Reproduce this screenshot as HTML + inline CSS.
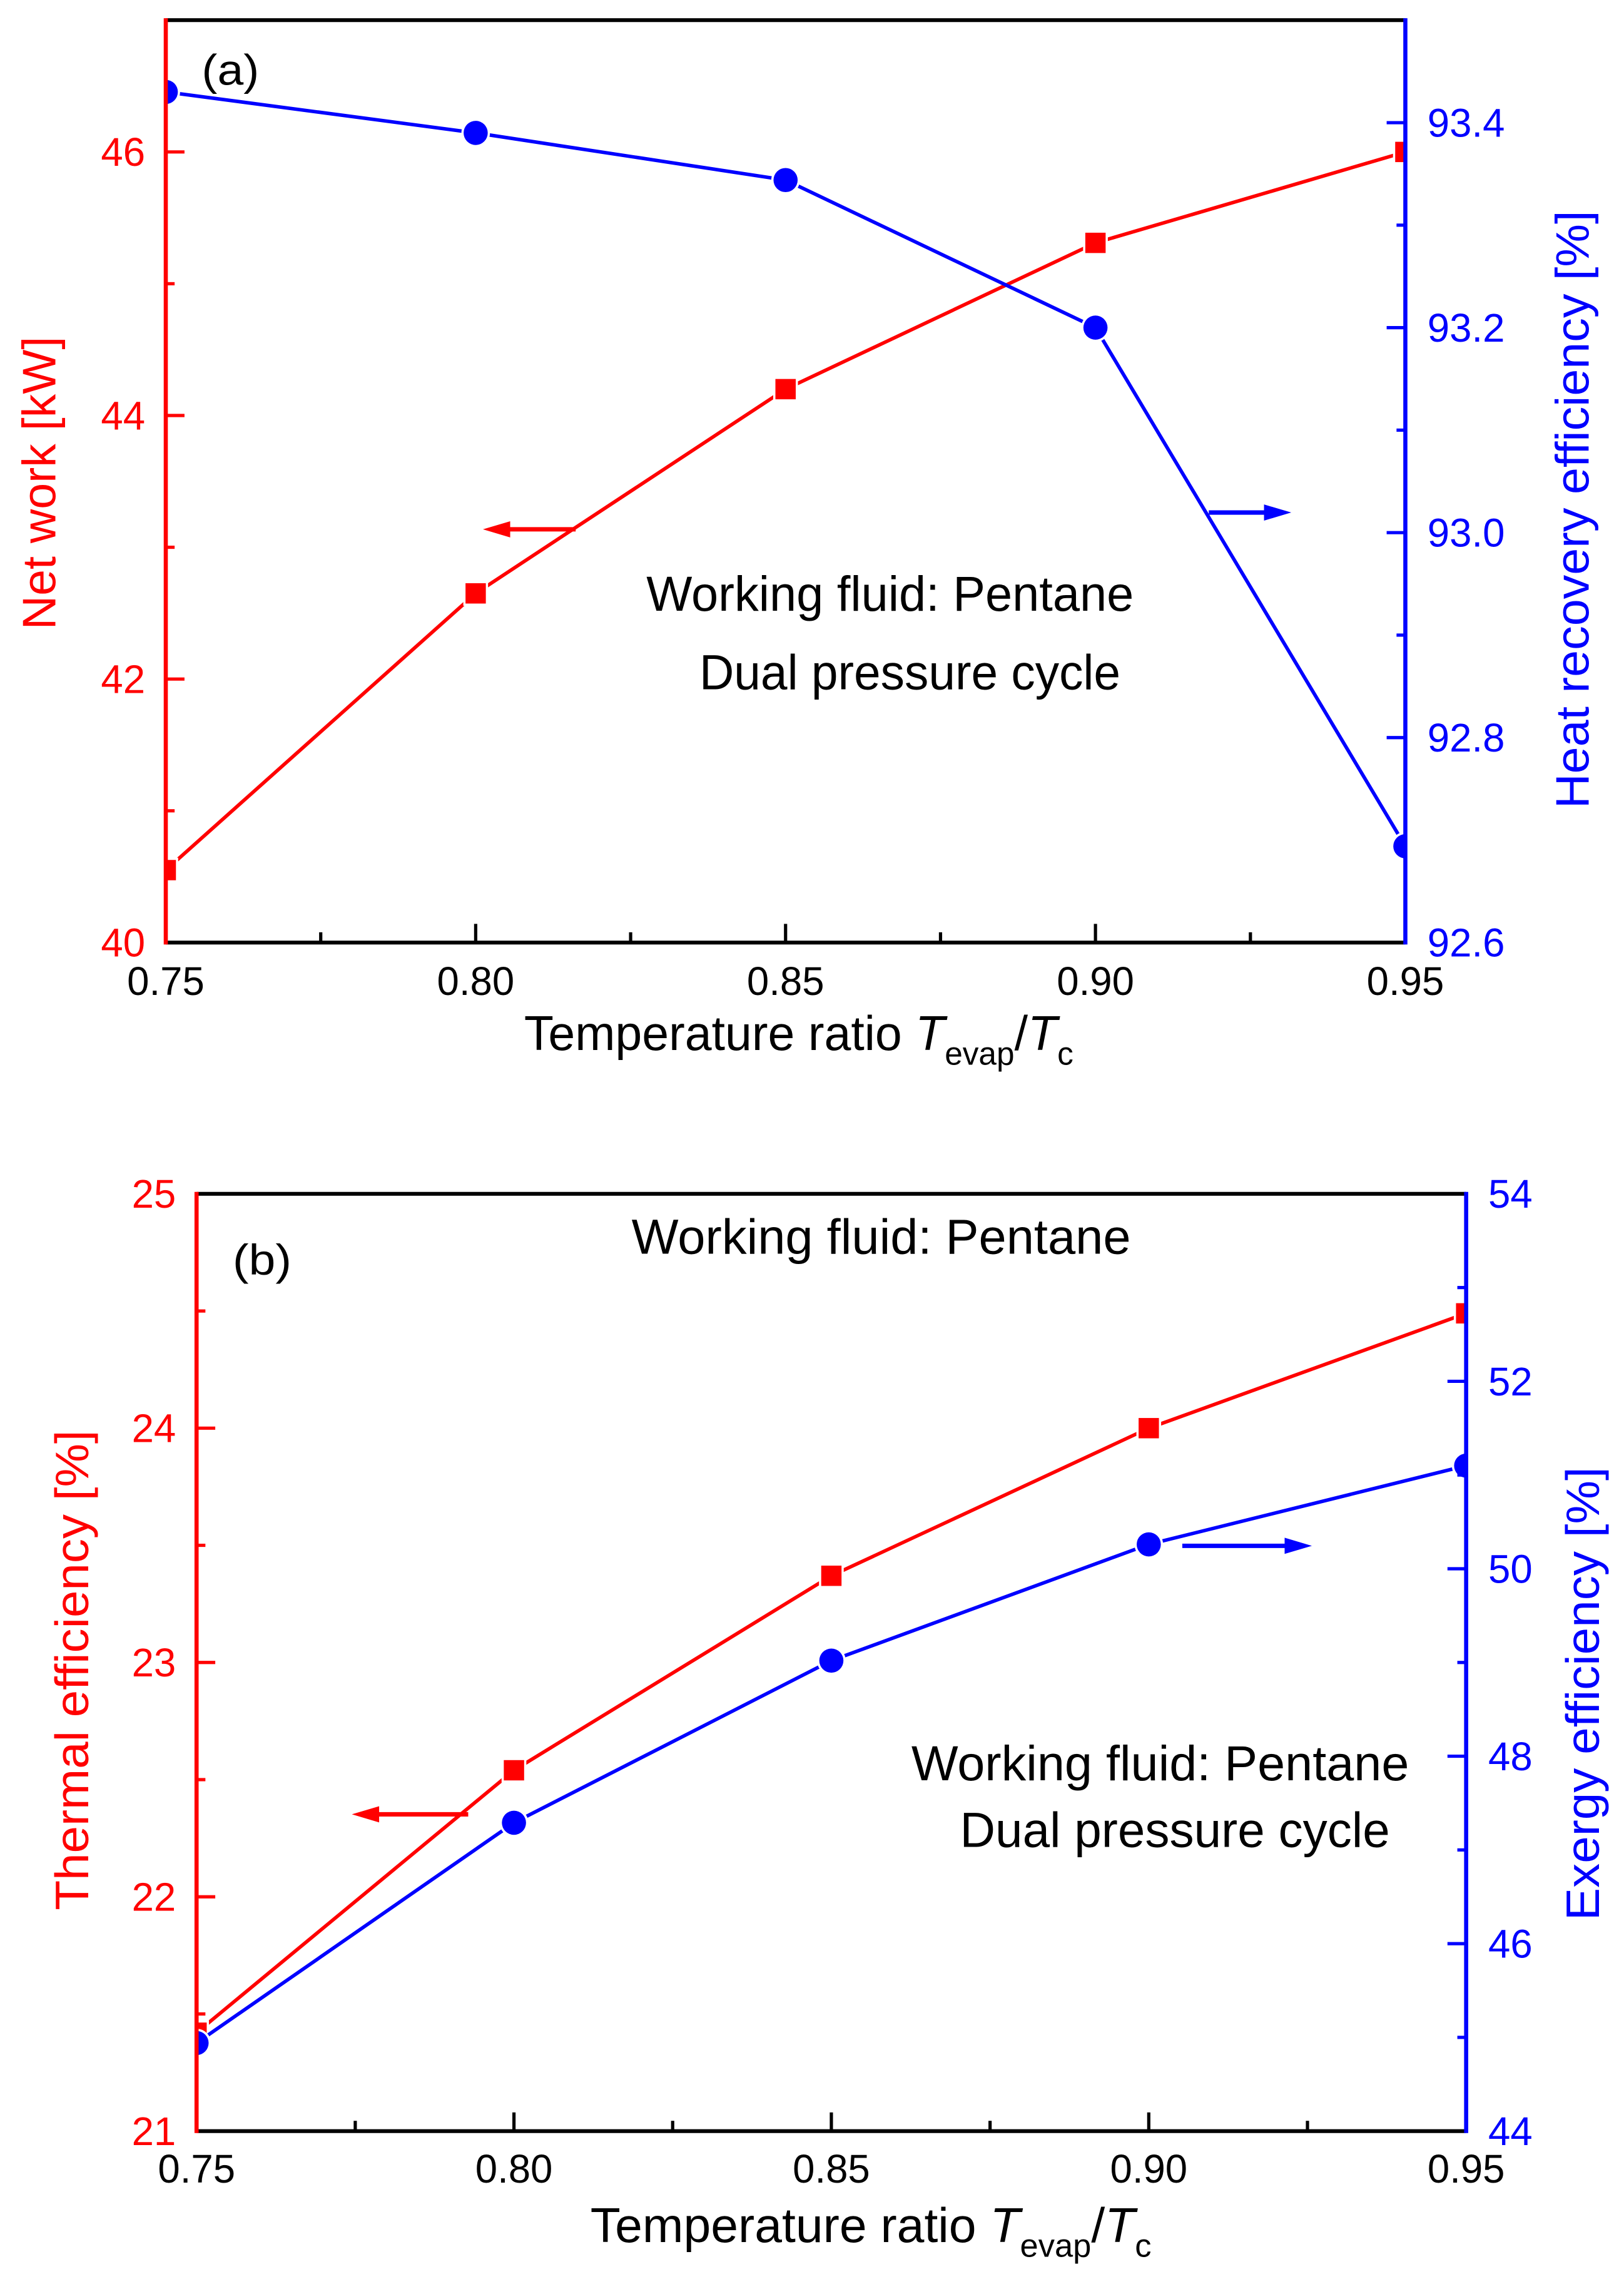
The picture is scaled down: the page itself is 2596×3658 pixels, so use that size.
<!DOCTYPE html>
<html><head><meta charset="utf-8"><style>
html,body{margin:0;padding:0;background:#fff}
svg{display:block}
text{font-family:"Liberation Sans",Arial,sans-serif}
</style></head><body>
<svg id="fig" xmlns="http://www.w3.org/2000/svg" width="2596" height="3658" viewBox="0 0 1103 1554.2" preserveAspectRatio="none">
<defs>
<clipPath id="clipA"><rect x="112.6" y="13.7" width="841.9" height="626.3"/></clipPath>
<clipPath id="clipB"><rect x="133.5" y="810.6" width="862.3" height="636.4"/></clipPath>
</defs>
<g id="panelA"></g>
<g id="panelB"></g>
</svg>
<script>
const xCats = [0.75, 0.80, 0.85, 0.90, 0.95];
const xTickLabels = ["0.75","0.80","0.85","0.90","0.95"];
const netWork = [40.55, 42.65, 44.2, 45.31, 46.0];
const heatRecovery = [93.43, 93.39, 93.344, 93.2, 92.694];
const thermalEff = [21.42, 22.54, 23.37, 24.0, 24.49];
const exergyEff = [44.94, 47.29, 49.02, 50.26, 51.1];
const aLeftTicks = [40, 42, 44, 46];
const aRightTicks = ["92.6","92.8","93.0","93.2","93.4"];
const bLeftTicks = [21, 22, 23, 24, 25];
const bRightTicks = [44, 46, 48, 50, 52, 54];

const NS = "http://www.w3.org/2000/svg";
function mk(parent, tag, attrs, txt){
  const e = document.createElementNS(NS, tag);
  for (const k in attrs) e.setAttribute(k, attrs[k]);
  if (txt !== undefined) e.textContent = txt;
  parent.appendChild(e);
  return e;
}
const RED = "#ff0000", BLUE = "#0000ff";

function panel(g, cfg){
  const {L,R,T,B,yl,yr,clip} = cfg;
  const sx = v => L + (v - 0.75) / 0.2 * (R - L);
  const syl = v => B - (v - yl[0]) / (yl[1] - yl[0]) * (B - T);
  const syr = v => B - (v - yr[0]) / (yr[1] - yr[0]) * (B - T);
  const data = mk(g, "g", {"clip-path": "url(#" + clip + ")"});
  
  
  function series(vals, sy, col, shape, name){
    const pts = vals.map((v,i) => sx(xCats[i]).toFixed(2) + "," + sy(v).toFixed(2)).join(" ");
    const pl = mk(data, "polyline", {points: pts, fill: "none", stroke: col, "stroke-width": 2.4, "stroke-linejoin": "round"});
    
    
    vals.forEach((v,i) => {
      const x = sx(xCats[i]), y = sy(v);
      let m;
      if (shape === "sq") m = mk(data, "rect", {x: x-6.9, y: y-6.9, width: 13.8, height: 13.8, fill: col, stroke: "#fff", "stroke-width": 3, "paint-order": "stroke"});
      else m = mk(data, "circle", {cx: x, cy: y, r: 8.2, fill: col, stroke: "#fff", "stroke-width": 3, "paint-order": "stroke"});
      
      
    });
  }
  series(cfg.lv, syl, RED, "sq", cfg.ln);
  series(cfg.rv, syr, BLUE, "ci", cfg.rn);
  // axes
  const ax = mk(g, "g", {});
  
  
  mk(ax, "line", {x1: L, y1: T, x2: R, y2: T, stroke: "#000", "stroke-width": 2.6});
  mk(ax, "line", {x1: L, y1: B, x2: R, y2: B, stroke: "#000", "stroke-width": 2.6});
  mk(ax, "line", {x1: L, y1: T-1.3, x2: L, y2: B+1.3, stroke: RED, "stroke-width": 2.8});
  mk(ax, "line", {x1: R, y1: T-1.3, x2: R, y2: B+1.3, stroke: BLUE, "stroke-width": 2.8});
  // x ticks
  for (let k = 0; k <= 8; k++){
    const v = 0.75 + k*0.025, x = sx(v);
    const len = (k % 2 === 0) ? 12.7 : 7;
    if (k > 0 && k < 8) mk(ax, "line", {x1: x, y1: B, x2: x, y2: B - len, stroke: "#000", "stroke-width": 2.2});
  }
  xTickLabels.forEach((t,i) => {
    const e = mk(ax, "text", {x: sx(xCats[i]), y: cfg.xtY, "font-size": 27, "text-anchor": "middle", fill: "#000"}, t);
    
    
  });
  // left ticks
  for (let v = yl[0]; v <= yl[1] + 1e-9; v += cfg.lMinor){
    const major = Math.abs(((v - yl[0]) / cfg.lMajor) - Math.round((v - yl[0]) / cfg.lMajor)) < 1e-6;
    const y = syl(v);
    if (v > yl[0] + 1e-9 && v < yl[1] - 1e-9) mk(ax, "line", {x1: L, y1: y, x2: L + (major ? 12.7 : 6), y2: y, stroke: RED, "stroke-width": 2.2});
  }
  cfg.lt.forEach(t => {
    const e = mk(ax, "text", {x: L - 14, y: syl(+t) + 9.5, "font-size": 27, "text-anchor": "end", fill: RED}, String(t));
    
    
  });
  for (let v = yr[0]; v <= yr[1] + 1e-9; v += cfg.rMinor){
    const major = Math.abs(((v - yr[0]) / cfg.rMajor) - Math.round((v - yr[0]) / cfg.rMajor)) < 1e-6;
    const y = syr(v);
    if (v > yr[0] + 1e-9 && v < yr[1] - 1e-9) mk(ax, "line", {x1: R, y1: y, x2: R - (major ? 12.7 : 6), y2: y, stroke: BLUE, "stroke-width": 2.2});
  }
  cfg.rt.forEach(t => {
    const e = mk(ax, "text", {x: R + 15, y: syr(+t) + 9.5, "font-size": 27, "text-anchor": "start", fill: BLUE}, String(t));
    
    
  });
  return {sx, syl, syr};
}

function arrow(g, x1, x2, y, col, name){
  const dir = Math.sign(x2 - x1);
  const a = mk(g, "g", {});
  
  
  mk(a, "line", {x1: x1, y1: y, x2: x2 - dir*16, y2: y, stroke: col, "stroke-width": 3});
  mk(a, "polygon", {points: `${x2},${y} ${x2-dir*18.5},${y-5.5} ${x2-dir*18.5},${y+5.5}`, fill: col});
}
function txt(g, name, attrs, s){
  const e = mk(g, "text", attrs, s);
  
  
  return e;
}

// Panel A
const gA = document.getElementById("panelA");
panel(gA, {L:112.6, R:954.5, T:13.7, B:640, yl:[40,47], yr:[92.6,93.5], clip:"clipA",
  lv: netWork, rv: heatRecovery, ln: "net-work", rn: "heat-recovery",
  lMajor: 2, lMinor: 1, rMajor: 0.2, rMinor: 0.1, lt: aLeftTicks, rt: aRightTicks, xtY: 675.5});
txt(gA, "panel-label-a", {x:137, y:57.5, "font-size":29, textLength:39, lengthAdjust:"spacingAndGlyphs"}, "(a)");
txt(gA, "annotation-fluid", {x:439, y:414.6, "font-size":33.5, textLength:331, lengthAdjust:"spacingAndGlyphs"}, "Working fluid: Pentane");
txt(gA, "annotation-cycle", {x:475, y:468, "font-size":33.5, textLength:286, lengthAdjust:"spacingAndGlyphs"}, "Dual pressure cycle");
arrow(gA, 391, 328, 359.4, RED, "left-axis-arrow");
arrow(gA, 821, 877, 348, BLUE, "right-axis-arrow");
const xa = txt(gA, "x-axis-title", {x:356, y:713, "font-size":33, textLength:373, lengthAdjust:"spacingAndGlyphs"}, "");
xa.innerHTML = 'Temperature ratio <tspan font-style="italic">T</tspan><tspan font-size="22" dy="10">evap</tspan><tspan dy="-10">/</tspan><tspan font-style="italic">T</tspan><tspan font-size="22" dy="10">c</tspan>';
txt(gA, "y-axis-title-left", {x:0, y:0, "font-size":32, fill:RED, "text-anchor":"middle", transform:"translate(37.6,328) rotate(-90)"}, "Net work [kW]");
txt(gA, "y-axis-title-right", {x:0, y:0, "font-size":32, fill:BLUE, "text-anchor":"middle", textLength:406, lengthAdjust:"spacingAndGlyphs", transform:"translate(1079,346) rotate(-90)"}, "Heat recovery efficiency [%]");

// Panel B
const gB = document.getElementById("panelB");
panel(gB, {L:133.5, R:995.8, T:810.6, B:1447, yl:[21,25], yr:[44,54], clip:"clipB",
  lv: thermalEff, rv: exergyEff, ln: "thermal-efficiency", rn: "exergy-efficiency",
  lMajor: 1, lMinor: 0.5, rMajor: 2, rMinor: 1, lt: bLeftTicks, rt: bRightTicks, xtY: 1482});
txt(gB, "panel-label-b", {x:158, y:865.4, "font-size":29, textLength:40, lengthAdjust:"spacingAndGlyphs"}, "(b)");
txt(gB, "annotation-fluid-top", {x:429, y:851.3, "font-size":33.5, textLength:339, lengthAdjust:"spacingAndGlyphs"}, "Working fluid: Pentane");
txt(gB, "annotation-fluid", {x:619, y:1208.7, "font-size":33.5, textLength:338, lengthAdjust:"spacingAndGlyphs"}, "Working fluid: Pentane");
txt(gB, "annotation-cycle", {x:652, y:1254, "font-size":33.5, textLength:292, lengthAdjust:"spacingAndGlyphs"}, "Dual pressure cycle");
arrow(gB, 318, 239, 1231.9, RED, "left-axis-arrow");
arrow(gB, 803, 891, 1049.6, BLUE, "right-axis-arrow");
const xb = txt(gB, "x-axis-title", {x:401, y:1522.3, "font-size":33, textLength:381, lengthAdjust:"spacingAndGlyphs"}, "");
xb.innerHTML = 'Temperature ratio <tspan font-style="italic">T</tspan><tspan font-size="22" dy="10">evap</tspan><tspan dy="-10">/</tspan><tspan font-style="italic">T</tspan><tspan font-size="22" dy="10">c</tspan>';
txt(gB, "y-axis-title-left", {x:0, y:0, "font-size":32, fill:RED, "text-anchor":"middle", textLength:326, lengthAdjust:"spacingAndGlyphs", transform:"translate(60,1134) rotate(-90)"}, "Thermal efficiency [%]");
txt(gB, "y-axis-title-right", {x:0, y:0, "font-size":32, fill:BLUE, "text-anchor":"middle", textLength:308, lengthAdjust:"spacingAndGlyphs", transform:"translate(1086,1150) rotate(-90)"}, "Exergy efficiency [%]");
</script>
</body></html>
